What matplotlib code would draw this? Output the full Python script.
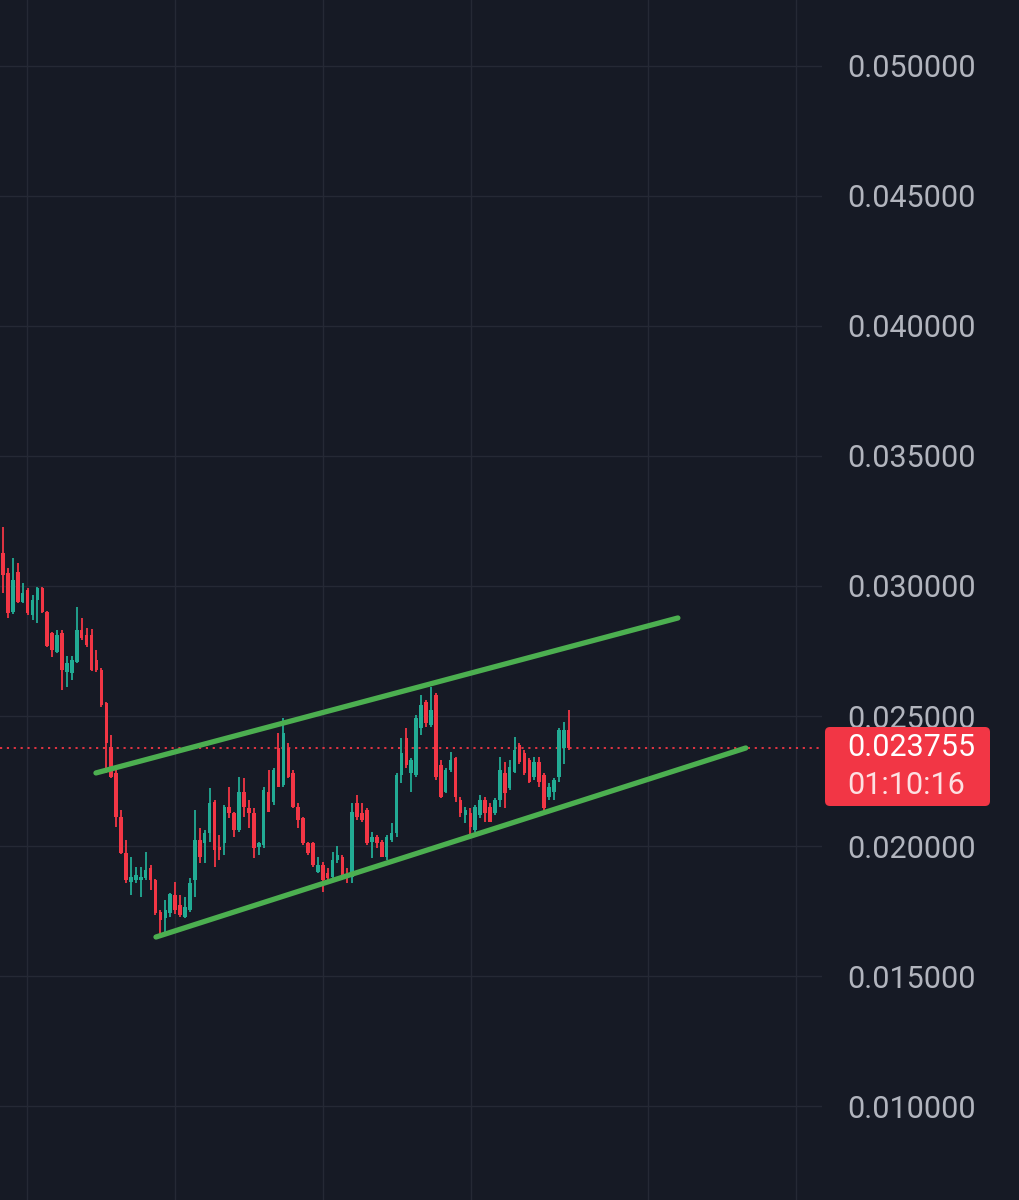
import matplotlib
matplotlib.use("Agg")
import matplotlib.pyplot as plt
from matplotlib.patches import FancyBboxPatch
from matplotlib.transforms import IdentityTransform
import numpy as np

# candle data (one candle per step)
opens = [0.03127, 0.03050, 0.02900, 0.03054, 0.02938, 0.02985, 0.02888, 0.02946, 0.02992, 0.02900,
         0.02819, 0.02746, 0.02819, 0.02669, 0.02665, 0.02708, 0.02831, 0.02812, 0.02812, 0.02715,
         0.02677, 0.02550, 0.02381, 0.02281, 0.02112, 0.01973, 0.01862, 0.01869, 0.01869, 0.01877,
         0.01915, 0.01869, 0.01746, 0.01723, 0.01742, 0.01812, 0.01773, 0.01727, 0.01754, 0.01869,
         0.02023, 0.02012, 0.02050, 0.02169, 0.01996, 0.02012, 0.02150, 0.02127, 0.02062, 0.02208,
         0.02146, 0.02127, 0.01996, 0.02004, 0.02208, 0.02169, 0.02377, 0.02235, 0.02377, 0.02281,
         0.02150, 0.02108, 0.02012, 0.02012, 0.01900, 0.01927, 0.01896, 0.01881, 0.01946, 0.01958,
         0.01888, 0.01881, 0.02165, 0.02127, 0.02138, 0.02015, 0.02035, 0.02015, 0.01958, 0.02023,
         0.02050, 0.02273, 0.02415, 0.02281, 0.02273, 0.02454, 0.02554, 0.02465, 0.02581, 0.02312,
         0.02208, 0.02292, 0.02338, 0.02177, 0.02119, 0.02127, 0.02062, 0.02119, 0.02177, 0.02150,
         0.02127, 0.02177, 0.02281, 0.02223, 0.02285, 0.02388, 0.02358, 0.02331, 0.02265, 0.02323,
         0.02273, 0.02188, 0.02208, 0.02265, 0.02377, 0.02446]
highs = [0.03227, 0.03069, 0.03108, 0.03088, 0.03011, 0.02992, 0.02965, 0.02996, 0.02996, 0.02905,
         0.02823, 0.02831, 0.02831, 0.02731, 0.02731, 0.02919, 0.02877, 0.02838, 0.02835, 0.02754,
         0.02685, 0.02555, 0.02427, 0.02292, 0.02138, 0.02023, 0.01958, 0.01919, 0.01919, 0.01977,
         0.01927, 0.01872, 0.01754, 0.01792, 0.01819, 0.01862, 0.01812, 0.01804, 0.01877, 0.02138,
         0.02069, 0.02062, 0.02223, 0.02177, 0.02042, 0.02158, 0.02227, 0.02131, 0.02265, 0.02262,
         0.02177, 0.02146, 0.02015, 0.02227, 0.02292, 0.02300, 0.02435, 0.02492, 0.02396, 0.02292,
         0.02165, 0.02112, 0.02015, 0.02015, 0.01958, 0.01938, 0.01915, 0.01977, 0.02000, 0.01965,
         0.01915, 0.02165, 0.02196, 0.02165, 0.02146, 0.02054, 0.02042, 0.02023, 0.02042, 0.02088,
         0.02281, 0.02415, 0.02454, 0.02338, 0.02504, 0.02581, 0.02562, 0.02612, 0.02588, 0.02331,
         0.02300, 0.02362, 0.02342, 0.02188, 0.02150, 0.02146, 0.02158, 0.02196, 0.02188, 0.02165,
         0.02185, 0.02342, 0.02323, 0.02331, 0.02419, 0.02396, 0.02369, 0.02338, 0.02342, 0.02342,
         0.02281, 0.02242, 0.02262, 0.02454, 0.02477, 0.02523]
lows = [0.02973, 0.02877, 0.02892, 0.02935, 0.02935, 0.02888, 0.02869, 0.02858, 0.02895, 0.02765,
        0.02727, 0.02742, 0.02600, 0.02612, 0.02638, 0.02704, 0.02792, 0.02765, 0.02672, 0.02669,
        0.02535, 0.02281, 0.02262, 0.02073, 0.01970, 0.01858, 0.01812, 0.01858, 0.01804, 0.01869,
        0.01831, 0.01735, 0.01658, 0.01669, 0.01727, 0.01738, 0.01727, 0.01723, 0.01746, 0.01804,
        0.01935, 0.01935, 0.02015, 0.01919, 0.01946, 0.01965, 0.02108, 0.02035, 0.02054, 0.02112,
        0.02069, 0.01954, 0.01965, 0.01992, 0.02131, 0.02158, 0.02227, 0.02227, 0.02262, 0.02146,
        0.02069, 0.02004, 0.01965, 0.01919, 0.01896, 0.01823, 0.01869, 0.01877, 0.01935, 0.01869,
        0.01858, 0.01858, 0.02100, 0.02092, 0.02004, 0.01954, 0.01992, 0.01958, 0.01946, 0.02015,
        0.02035, 0.02242, 0.02300, 0.02208, 0.02265, 0.02427, 0.02458, 0.02458, 0.02254, 0.02185,
        0.02204, 0.02285, 0.02169, 0.02112, 0.02088, 0.02042, 0.02054, 0.02108, 0.02092, 0.02092,
        0.02119, 0.02150, 0.02146, 0.02215, 0.02281, 0.02315, 0.02273, 0.02242, 0.02254, 0.02227,
        0.02138, 0.02177, 0.02177, 0.02246, 0.02315, 0.02369]
closes = [0.03042, 0.02896, 0.03023, 0.02938, 0.02973, 0.02896, 0.02946, 0.02992, 0.02900, 0.02770,
          0.02754, 0.02812, 0.02677, 0.02704, 0.02715, 0.02831, 0.02800, 0.02773, 0.02677, 0.02677,
          0.02542, 0.02396, 0.02265, 0.02112, 0.01973, 0.01869, 0.01881, 0.01888, 0.01881, 0.01908,
          0.01869, 0.01742, 0.01715, 0.01754, 0.01815, 0.01754, 0.01735, 0.01765, 0.01858, 0.02023,
          0.01958, 0.02050, 0.02165, 0.01985, 0.01985, 0.02150, 0.02127, 0.02062, 0.02208, 0.02150,
          0.02127, 0.01992, 0.02012, 0.02215, 0.02131, 0.02292, 0.02227, 0.02435, 0.02265, 0.02150,
          0.02100, 0.02012, 0.01973, 0.01927, 0.01927, 0.01869, 0.01877, 0.01946, 0.01965, 0.01888,
          0.01877, 0.02131, 0.02112, 0.02100, 0.02012, 0.02035, 0.02012, 0.01958, 0.02035, 0.02050,
          0.02273, 0.02358, 0.02312, 0.02331, 0.02492, 0.02542, 0.02473, 0.02523, 0.02265, 0.02188,
          0.02292, 0.02331, 0.02188, 0.02127, 0.02138, 0.02073, 0.02150, 0.02177, 0.02127, 0.02092,
          0.02177, 0.02292, 0.02204, 0.02304, 0.02369, 0.02323, 0.02281, 0.02246, 0.02323, 0.02246,
          0.02146, 0.02227, 0.02254, 0.02446, 0.02446, 0.023755]

# channel drawn on the chart (candle index, price)
upper_x = [18.9, 137.2]
upper_y = [0.02281, 0.02877]
lower_x = [31.1, 151.0]
lower_y = [0.01650, 0.02377]

price_ticks = [0.010, 0.015, 0.020, 0.025, 0.030, 0.035, 0.040, 0.045, 0.050]
time_grid = [4.9, 35.0, 65.0, 95.1, 131.1, 161.2]
last_price = "0.023755"
countdown = "01:10:16"

bg = "#161a25"
grid_c = "#252935"
up_c = "#22ab94"
down_c = "#f23645"
chan_c = "#4caf50"

plt.rcParams["font.family"] = ["Roboto", "DejaVu Sans"]

fig = plt.figure(figsize=(10.19, 12), dpi=100)
fig.patch.set_facecolor(bg)
ax = fig.add_axes([0, 0, 822 / 1019, 1])
ax.set_facecolor(bg)

o = np.array(opens)
h = np.array(highs)
l = np.array(lows)
c = np.array(closes)
idx = np.arange(len(o))
cols = np.where(c >= o, up_c, down_c)

ax.vlines(idx, l, h, colors=cols, linewidth=1.3, zorder=3)
body = np.maximum(np.abs(c - o), 0.00004)
ax.bar(idx, body, bottom=np.minimum(o, c), width=0.72, color=cols, linewidth=0, zorder=4)

ax.plot(upper_x, upper_y, color=chan_c, lw=3.8, solid_capstyle="round", zorder=5)
ax.plot(lower_x, lower_y, color=chan_c, lw=3.8, solid_capstyle="round", zorder=5)

ax.axhline(c[-1], color=down_c, lw=1.3, ls=(0, (1.2, 2.6)), zorder=2)

ax.set_xlim(-0.61, 166.5)
ax.set_ylim(0.006385, 0.052538)
ax.set_xticks(time_grid)
ax.set_xticklabels([])
ax.set_yticks(price_ticks)
ax.set_yticklabels(["{:.6f}".format(t) for t in price_ticks])
ax.yaxis.tick_right()
ax.tick_params(axis="y", length=0, pad=18, labelsize=22, labelcolor="#b2b5be")
ax.tick_params(axis="x", length=0)
ax.grid(True, color=grid_c, lw=1.0, zorder=0)
for s in ax.spines.values():
    s.set_visible(False)

# last price tag on the scale
box = FancyBboxPatch((825, 1200 - 806), 165, 79, boxstyle="round,pad=0,rounding_size=5",
                     transform=IdentityTransform(), facecolor=down_c, edgecolor="none", zorder=3)
fig.patches.append(box)
fig.text(847 / 1019, 1 - 748 / 1200, last_price, color="white", fontsize=22,
         va="center", ha="left", zorder=4)
fig.text(847 / 1019, 1 - 785 / 1200, countdown, color="#fde0e2", fontsize=22,
         va="center", ha="left", zorder=4)

fig.savefig("out.png", dpi=100, facecolor=bg)
